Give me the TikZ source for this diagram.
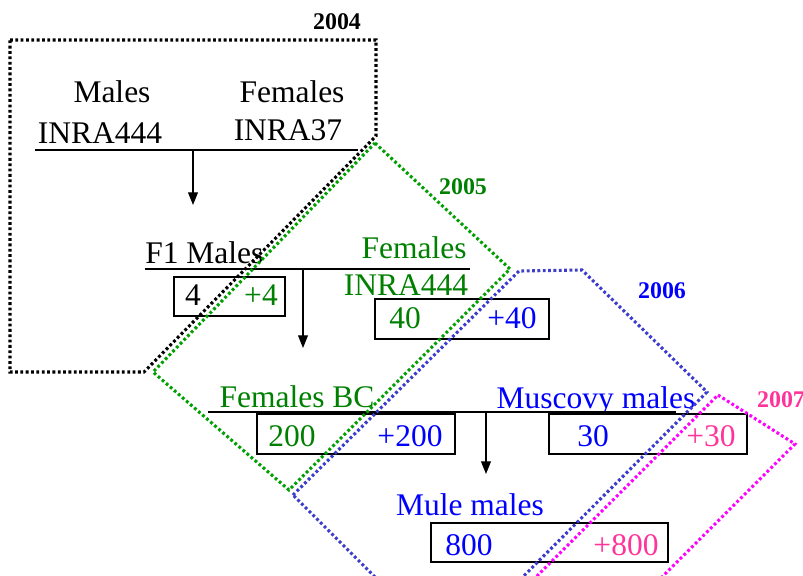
\documentclass[tikz,border=0pt]{standalone}
\usepackage{fontspec}
\setmainfont{Liberation Serif}
\usetikzlibrary{arrows.meta}

\definecolor{gen05}{RGB}{0,128,0}
\definecolor{gen06}{RGB}{0,0,255}
\definecolor{gen07}{RGB}{255,51,153}
\definecolor{dot05}{RGB}{0,160,0}
\definecolor{dot06}{RGB}{60,60,205}
\definecolor{dot07}{RGB}{255,0,255}

\tikzset{
  lbl/.style={anchor=base, inner sep=0pt, font=\fontsize{22.4}{26}\selectfont},
  yr/.style={anchor=base, inner sep=0pt, font=\fontsize{17}{20}\selectfont\bfseries},
  cross/.style={line width=0.9pt},
  down/.style={line width=0.9pt, -{Triangle[width=7pt,length=9pt]}},
  count/.style={draw, line width=1.05pt},
  period/.style={line width=2.2pt, dash pattern=on 2pt off 1.8pt},
}

\begin{document}
\begin{tikzpicture}[x=0.025cm, y=-0.025cm]
  \useasboundingbox (0,0) rectangle (803,575);
  \clip (0,0) rectangle (803,575);

  % 2004
  \node[yr] (Y4) at (337,29) {2004};
  \node[lbl] (M0) at (112,102) {Males};
  \node[lbl] (F0) at (292,102) {Females};
  \node[lbl] (M1) at (100,143) {INRA444};
  \node[lbl] (F1) at (288,140) {INRA37};
  \coordinate (L1) at (35,150);
  \coordinate (R1) at (358,150);
  \coordinate (X1) at (193,150);
  \coordinate (Z1) at (193,205);
  \draw[cross] (L1) -- (R1);
  \draw[down] (X1) -- (Z1);

  % 2005
  \node[yr, text=gen05] (Y5) at (463,194) {2005};
  \node[lbl, anchor=base west] (M2) at (145,263) {F1 Males};
  \node[lbl, text=gen05] (F2) at (414,258) {Females};
  \node[lbl, text=gen05] (F3) at (406,295) {INRA444};
  \coordinate (L2) at (145,269);
  \coordinate (R2) at (470,269);
  \coordinate (X2) at (303,269);
  \coordinate (Z2) at (303,348);
  \draw[cross] (L2) -- (R2);
  \draw[down] (X2) -- (Z2);
  \draw[count] (174,277) rectangle (285,316);
  \node[lbl] (a4) at (193,305) {4};
  \node[lbl, text=gen05] (b4) at (261,305) {+4};
  \draw[count] (375,299) rectangle (549,339);
  \node[lbl, text=gen05] (a40) at (405,328) {40};
  \node[lbl, text=gen06] (b40) at (512,328) {+40};

  % 2006
  \node[yr, text=gen06] (Y6) at (662,298) {2006};
  \node[lbl, text=gen05] (F4) at (297,407) {Females BC};
  \node[lbl, text=gen06] (M3) at (596,408) {Muscovy males};
  \coordinate (L3) at (208,412);
  \coordinate (R3) at (676,412);
  \coordinate (X3) at (486,412);
  \coordinate (Z3) at (486,474);
  \draw[cross] (L3) -- (R3);
  \draw[down] (X3) -- (Z3);
  \draw[count] (257,414) rectangle (455,454);
  \node[lbl, text=gen05] (a200) at (292,446) {200};
  \node[lbl, text=gen06] (b200) at (410,446) {+200};
  \draw[count] (549,414) rectangle (747,454);
  \node[lbl, text=gen06] (a30) at (593,446) {30};
  \node[lbl, text=gen07] (b30) at (711,446) {+30};

  % 2007
  \node[yr, text=gen07] (Y7) at (781,407) {2007};
  \node[lbl, text=gen06] (M4) at (470,515) {Mule males};
  \draw[count] (431,523) rectangle (668,562);
  \node[lbl, text=gen06] (a800) at (469,555) {800};
  \node[lbl, text=gen07] (b800) at (626,555) {+800};

  % year frames
  \draw[period] (10,40) -- (376,40) -- (376,136) -- (144,372) -- (10,372) -- cycle;
  \draw[period, dot05] (375,143) -- (510,269) -- (289,490) -- (153,372) -- cycle;
  \draw[period, dot06] (293,495) -- (519,271) -- (582,270) -- (707,392) -- (449,651) -- cycle;
  \draw[period, dot07] (718,395) -- (795,444) -- (495,744) -- (418,695) -- cycle;
\end{tikzpicture}
\end{document}
